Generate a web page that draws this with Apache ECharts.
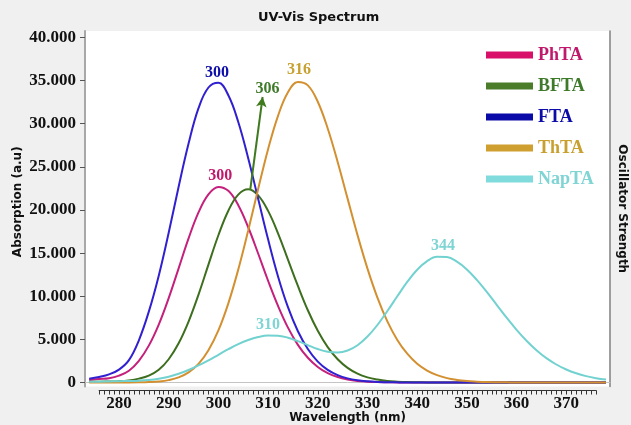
<!DOCTYPE html>
<html><head><meta charset="utf-8">
<script src="https://cdn.jsdelivr.net/npm/echarts@6/dist/echarts.min.js"></script>
<style>html,body{margin:0;padding:0;background:#f0f0f0}#c{width:631px;height:425px}</style>
</head><body><div id="c"></div>
<script>
const wavelength = [274,276,278,280,282,284,286,288,290,292,294,296,298,300,302,304,306,308,310,312,314,316,318,320,322,324,326,328,330,332,334,336,338,340,342,344,346,348,350,352,354,356,358,360,362,364,366,368,370,372,374,376,378];
const PhTA = [0.3,0.4,0.5,0.8,1.37,2.52,4.28,6.72,9.79,13.24,16.71,19.72,21.82,22.68,22.22,20.56,18.0,14.96,11.8,8.88,6.36,4.37,2.87,1.81,1.09,0.64,0.36,0.19,0.1,0.05,0.03,0.01,0,0,0,0,0,0,0,0,0,0,0,0,0,0,0,0,0,0,0,0,0];
const BFTA = [0.1,0.1,0.12,0.15,0.25,0.45,0.8,1.48,2.7,4.55,7.07,10.19,13.67,17.07,19.92,21.79,22.4,21.7,19.9,17.3,14.25,11.2,8.38,6.0,4.1,2.7,1.7,1.03,0.6,0.34,0.18,0.1,0.05,0.03,0.01,0,0,0,0,0,0,0,0,0,0,0,0,0,0,0,0,0,0];
const FTA = [0.45,0.65,0.95,1.5,2.6,4.9,8.22,12.39,17.37,22.7,27.7,31.8,34.2,34.75,33.3,30.2,26.0,21.3,16.6,12.3,8.74,5.95,3.89,2.43,1.47,0.86,0.48,0.26,0.14,0.07,0.04,0.02,0.01,0.01,0.01,0.01,0.01,0.01,0.01,0.01,0.01,0.01,0.01,0.01,0.01,0.01,0.01,0.01,0.01,0.01,0.01,0.01,0.01];
const ThTA = [0,0,0,0.01,0.01,0.02,0.05,0.12,0.28,0.59,1.17,2.16,3.74,6.04,9.18,13.1,17.63,22.43,27.05,30.92,33.65,34.85,34.45,32.55,29.45,25.57,21.32,17.09,13.21,9.85,7.09,4.94,3.34,2.18,1.39,0.86,0.51,0.3,0.17,0.1,0.05,0.03,0.02,0.01,0.01,0.01,0.01,0.01,0.01,0.01,0.01,0.01,0.01];
const NapTA = [0.1,0.1,0.12,0.15,0.18,0.22,0.3,0.45,0.68,1.01,1.45,1.98,2.58,3.22,3.86,4.45,4.93,5.27,5.44,5.43,5.2,4.8,4.34,3.88,3.56,3.48,3.71,4.32,5.33,6.67,8.29,10.0,11.66,13.08,14.08,14.58,14.54,14.01,13.11,11.9,10.5,9.01,7.51,6.11,4.85,3.75,2.83,2.09,1.51,1.07,0.74,0.5,0.34];

const yTickValues = [0,5,10,15,20,25,30,35,40];
const xTickLabels = [280,290,300,310,320,330,340,350,360,370];
const xMinorFrom = 276, xMinorTo = 376;

// peak annotations: [series, text, wavelength, value]
const peakNotes = [
  ['FTA','300',299.7,35.9],
  ['PhTA','300',300.4,23.9],
  ['BFTA','306',309.9,34.0],
  ['ThTA','316',316.2,36.3],
  ['NapTA','310',310.0,6.7],
  ['NapTA','344',345.2,15.9]
];
// arrow from BFTA peak
const arrowFrom = [306.4,22.3], arrowTo = [308.9,33.1];

const names = ['PhTA','BFTA','FTA','ThTA','NapTA'];
const values = {PhTA, BFTA, FTA, ThTA, NapTA};
const lineColor = {PhTA:'#c4207c', BFTA:'#3d6f1f', FTA:'#3020d0', ThTA:'#d39030', NapTA:'#72d2d0'};
const legendColor = {PhTA:'#d8106a', BFTA:'#4a7c2a', FTA:'#0a0aa8', ThTA:'#cfa030', NapTA:'#80dcdc'};
const textColor = {PhTA:'#c0186c', BFTA:'#3f7a2a', FTA:'#0c0ca8', ThTA:'#c8a030', NapTA:'#7fd4d4'};

const xMinorTicks = [];
for (let v = xMinorFrom; v <= xMinorTo; v++) xMinorTicks.push(v);

const X_MIN = 273.16, X_MAX = 378.8, Y_MIN = -0.46, Y_MAX = 40.75;
const serif = 'Liberation Serif';
const sans = 'DejaVu Sans';

const series = names.map(n => {
  const s = {
    name: n, type: 'line', xAxisIndex: 0, yAxisIndex: 0,
    data: wavelength.map((w, i) => [w, values[n][i]]),
    showSymbol: false, smooth: 0.4,
    lineStyle: {color: lineColor[n], width: 2},
    itemStyle: {color: lineColor[n]},
    markPoint: {
      symbol: 'circle', symbolSize: 1, silent: true,
      itemStyle: {color: 'rgba(0,0,0,0)'},
      label: {show: true, position: 'inside', formatter: '{b}', color: textColor[n],
              fontFamily: serif, fontWeight: 'bold', fontSize: 16},
      data: peakNotes.filter(p => p[0] === n).map(p => ({name: p[1], coord: [p[2], p[3]]}))
    }
  };
  if (n === 'BFTA') {
    s.markLine = {
      silent: true, symbol: ['none', 'arrow'], symbolSize: [8, 10],
      lineStyle: {color: '#3f7a1f', width: 2, type: 'solid'},
      label: {show: false},
      data: [[{coord: arrowFrom}, {coord: arrowTo}]]
    };
  }
  return s;
});

const chart = echarts.init(document.getElementById('c'), null, {renderer: 'canvas'});
chart.setOption({
  animation: false,
  backgroundColor: '#f0f0f0',
  title: {text: 'UV-Vis Spectrum', left: 258, top: 11, padding: 0,
          textStyle: {fontFamily: sans, fontWeight: 'bold', fontSize: 13, color: '#111'}},
  legend: {
    orient: 'vertical', left: 486, top: 46, padding: 0,
    itemWidth: 47, itemHeight: 7, itemGap: 13, icon: 'rect',
    textStyle: {fontFamily: serif, fontWeight: 'bold', fontSize: 18, lineHeight: 18},
    data: names.map(n => ({name: n, itemStyle: {color: legendColor[n]}, textStyle: {color: textColor[n]}}))
  },
  grid: [
    {left: 85, right: 21, top: 31, bottom: 38.5, show: true, backgroundColor: '#ffffff', borderWidth: 0,
     outerBoundsMode: 'none', containLabel: false},
    {left: 99.12, right: 34.88, top: 31, bottom: 38.5, outerBoundsMode: 'none', containLabel: false}
  ],
  xAxis: [
    {gridIndex: 0, type: 'value', min: X_MIN, max: X_MAX, show: false},
    {gridIndex: 0, type: 'value', min: X_MIN, max: X_MAX, position: 'top',
     axisLine: {show: true, lineStyle: {color: '#c4c4c4', width: 1}},
     axisTick: {show: false}, axisLabel: {show: false}, splitLine: {show: false}},
    {gridIndex: 1, type: 'value', min: xMinorFrom, max: xMinorTo, position: 'bottom', offset: 4, z: 20,
     axisLine: {show: true, onZero: false, lineStyle: {color: '#333', width: 1}},
     axisTick: {show: true, inside: false, customValues: xMinorTicks, length: 4, lineStyle: {color: '#333', width: 1}},
     axisLabel: {show: true, customValues: xTickLabels, margin: 5,
                 fontFamily: serif, fontWeight: 'bold', fontSize: 17, color: '#111'},
     splitLine: {show: false},
     name: 'Wavelength (nm)', nameLocation: 'middle', nameGap: 21, nameMoveOverlap: false,
     nameTextStyle: {fontFamily: sans, fontWeight: 'bold', fontSize: 12, color: '#111'}}
  ],
  yAxis: [
    {gridIndex: 0, type: 'value', min: Y_MIN, max: Y_MAX, position: 'left',
     axisLine: {show: true, onZero: false, lineStyle: {color: '#a8a8a8', width: 2}},
     axisTick: {show: true, customValues: yTickValues, length: 5, lineStyle: {color: '#555'}},
     axisLabel: {show: true, customValues: yTickValues, margin: 9,
                 formatter: v => v === 0 ? '0' : v.toFixed(3),
                 fontFamily: serif, fontWeight: 'bold', fontSize: 17, color: '#111'},
     splitLine: {show: false},
     name: 'Absorption (a.u)', nameLocation: 'middle', nameGap: 61, nameMoveOverlap: false,
     nameTextStyle: {fontFamily: sans, fontWeight: 'bold', fontSize: 12, color: '#111', padding: [0, 0, 0, 14]}},
    {gridIndex: 0, type: 'value', min: Y_MIN, max: Y_MAX, position: 'right',
     axisLine: {show: true, onZero: false, lineStyle: {color: '#808080', width: 1.5}},
     axisTick: {show: false}, axisLabel: {show: false}, splitLine: {show: false},
     name: 'Oscillator Strength', nameLocation: 'middle', nameGap: 6, nameRotate: -90, nameMoveOverlap: false,
     nameTextStyle: {fontFamily: sans, fontWeight: 'bold', fontSize: 12, color: '#111'}},
    {gridIndex: 1, type: 'value', min: Y_MIN, max: Y_MAX, show: false}
  ],
  series: series
});
</script></body></html>
